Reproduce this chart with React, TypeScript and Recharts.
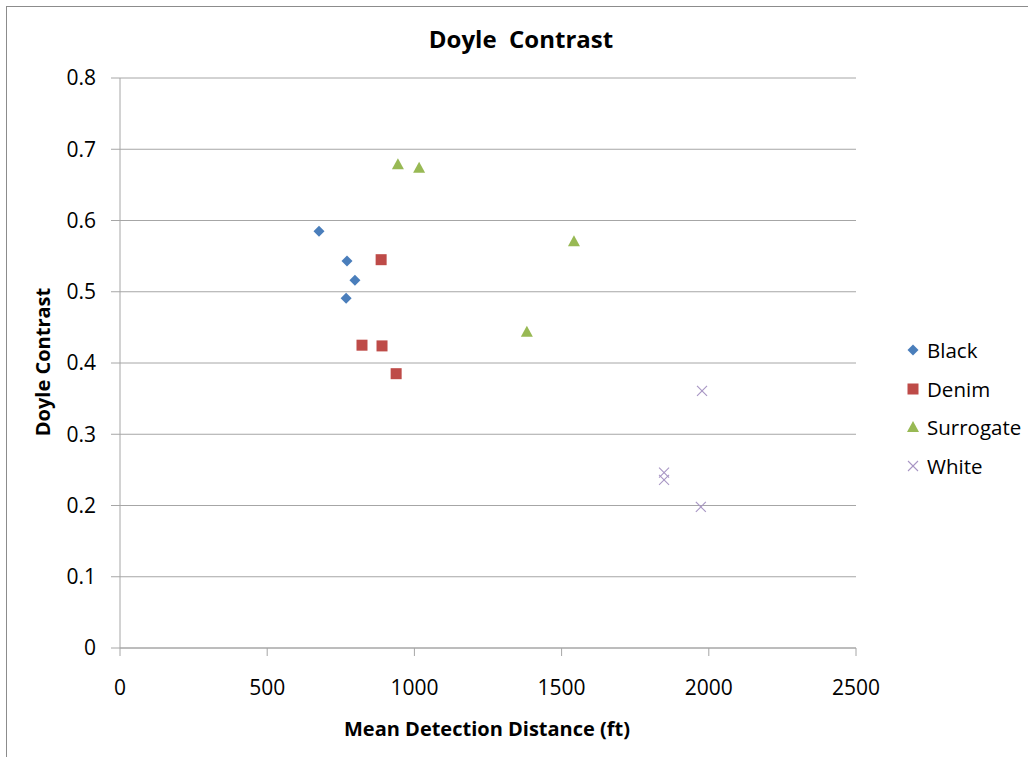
import React from 'react';
import {
  ScatterChart,
  Scatter,
  XAxis,
  YAxis,
  CartesianGrid,
} from 'recharts';

const blackX = [676, 771, 798, 768];
const blackY = [0.585, 0.543, 0.516, 0.491];
const denimX = [887, 822, 890, 938];
const denimY = [0.545, 0.425, 0.424, 0.385];
const surrogateX = [944, 1016, 1542, 1382];
const surrogateY = [0.679, 0.674, 0.571, 0.444];
const whiteX = [1977, 1848, 1848, 1973];
const whiteY = [0.361, 0.246, 0.236, 0.198];

const xTicks = [0, 500, 1000, 1500, 2000, 2500];
const yTicks = [0, 0.1, 0.2, 0.3, 0.4, 0.5, 0.6, 0.7, 0.8];

const FONT = '"Open Sans", "Noto Sans", sans-serif';
const GRID = '#a6a6a6';

const pts = (xs: number[], ys: number[]) => xs.map((x, i) => ({ x, y: ys[i] }));

const COLORS = {
  Black: '#4a7ebb',
  Denim: '#be4b48',
  Surrogate: '#98b954',
  White: '#a896c4',
};

function Diamond({ cx, cy, color = COLORS.Black }: any) {
  const r = 5.5;
  return <path d={`M${cx},${cy - r}L${cx + r},${cy}L${cx},${cy + r}L${cx - r},${cy}Z`} fill={color} />;
}
function Square({ cx, cy, color = COLORS.Denim }: any) {
  const r = 5.5;
  return <rect x={cx - r} y={cy - r} width={2 * r} height={2 * r} fill={color} />;
}
function Triangle({ cx, cy, color = COLORS.Surrogate }: any) {
  const r = 6;
  return <path d={`M${cx},${cy - r}L${cx + r},${cy + r - 1}L${cx - r},${cy + r - 1}Z`} fill={color} />;
}
function Cross({ cx, cy, color = COLORS.White }: any) {
  const r = 5;
  return (
    <g stroke={color} strokeWidth={1.1}>
      <line x1={cx - r} y1={cy - r} x2={cx + r} y2={cy + r} />
      <line x1={cx - r} y1={cy + r} x2={cx + r} y2={cy - r} />
    </g>
  );
}

const legendItems = [
  { name: 'Black', Shape: Diamond },
  { name: 'Denim', Shape: Square },
  { name: 'Surrogate', Shape: Triangle },
  { name: 'White', Shape: Cross },
];

function LegendBox() {
  return (
    <div style={{ position: 'absolute', left: 904, top: 331, fontFamily: FONT, fontSize: 20.5, color: '#000' }}>
      {legendItems.map(({ name, Shape }) => (
        <div key={name} style={{ display: 'flex', alignItems: 'center', height: 38.5 }}>
          <svg width={20} height={20} style={{ marginRight: 3 }}>
            <Shape cx={9} cy={10} />
          </svg>
          <span>{name}</span>
        </div>
      ))}
    </div>
  );
}

export default function App() {
  return (
    <div style={{ position: 'fixed', left: 0, top: 0, width: 1028, height: 757, background: '#fff', overflow: 'hidden' }}>
      <div
        style={{
          position: 'absolute',
          left: 6,
          top: 6,
          width: 1100,
          height: 800,
          borderTop: '1px solid #8c8c8c',
          borderLeft: '1px solid #8c8c8c',
        }}
      />
      <div
        style={{
          position: 'absolute',
          left: 521,
          top: 38,
          transform: 'translate(-50%, -50%)',
          fontFamily: FONT,
          fontWeight: 'bold',
          fontSize: 24,
          whiteSpace: 'pre',
        }}
      >
        {'Doyle  Contrast'}
      </div>
      <div
        style={{
          position: 'absolute',
          left: 42,
          top: 362,
          transform: 'translate(-50%, -50%) rotate(-90deg)',
          fontFamily: FONT,
          fontWeight: 'bold',
          fontSize: 20,
          whiteSpace: 'nowrap',
        }}
      >
        Doyle Contrast
      </div>
      <div
        style={{
          position: 'absolute',
          left: 487,
          top: 728,
          transform: 'translate(-50%, -50%)',
          fontFamily: FONT,
          fontWeight: 'bold',
          fontSize: 20,
          whiteSpace: 'nowrap',
        }}
      >
        Mean Detection Distance (ft)
      </div>
      <div style={{ position: 'absolute', left: 0, top: 0 }}>
        <ScatterChart width={1028} height={757} margin={{ top: 78, right: 172, left: 60, bottom: 69 }}>
          <CartesianGrid vertical={false} stroke={GRID} />
          <XAxis
            type="number"
            dataKey="x"
            domain={[0, 2500]}
            ticks={xTicks}
            height={40}
            interval={0}
            stroke={GRID}
            tickSize={8}
            tickMargin={24}
            tick={{ fontSize: 21, fill: '#000', fontFamily: FONT }}
          />
          <YAxis
            type="number"
            dataKey="y"
            domain={[0, 0.8]}
            ticks={yTicks}
            width={60}
            interval={0}
            stroke={GRID}
            tickSize={9}
            tickMargin={15}
            tick={{ fontSize: 21, fill: '#000', fontFamily: FONT }}
          />
          <Scatter name="Black" data={pts(blackX, blackY)} shape={(p: any) => <Diamond {...p} />} isAnimationActive={false} />
          <Scatter name="Denim" data={pts(denimX, denimY)} shape={(p: any) => <Square {...p} />} isAnimationActive={false} />
          <Scatter name="Surrogate" data={pts(surrogateX, surrogateY)} shape={(p: any) => <Triangle {...p} />} isAnimationActive={false} />
          <Scatter name="White" data={pts(whiteX, whiteY)} shape={(p: any) => <Cross {...p} />} isAnimationActive={false} />
        </ScatterChart>
      </div>
      <LegendBox />
    </div>
  );
}
